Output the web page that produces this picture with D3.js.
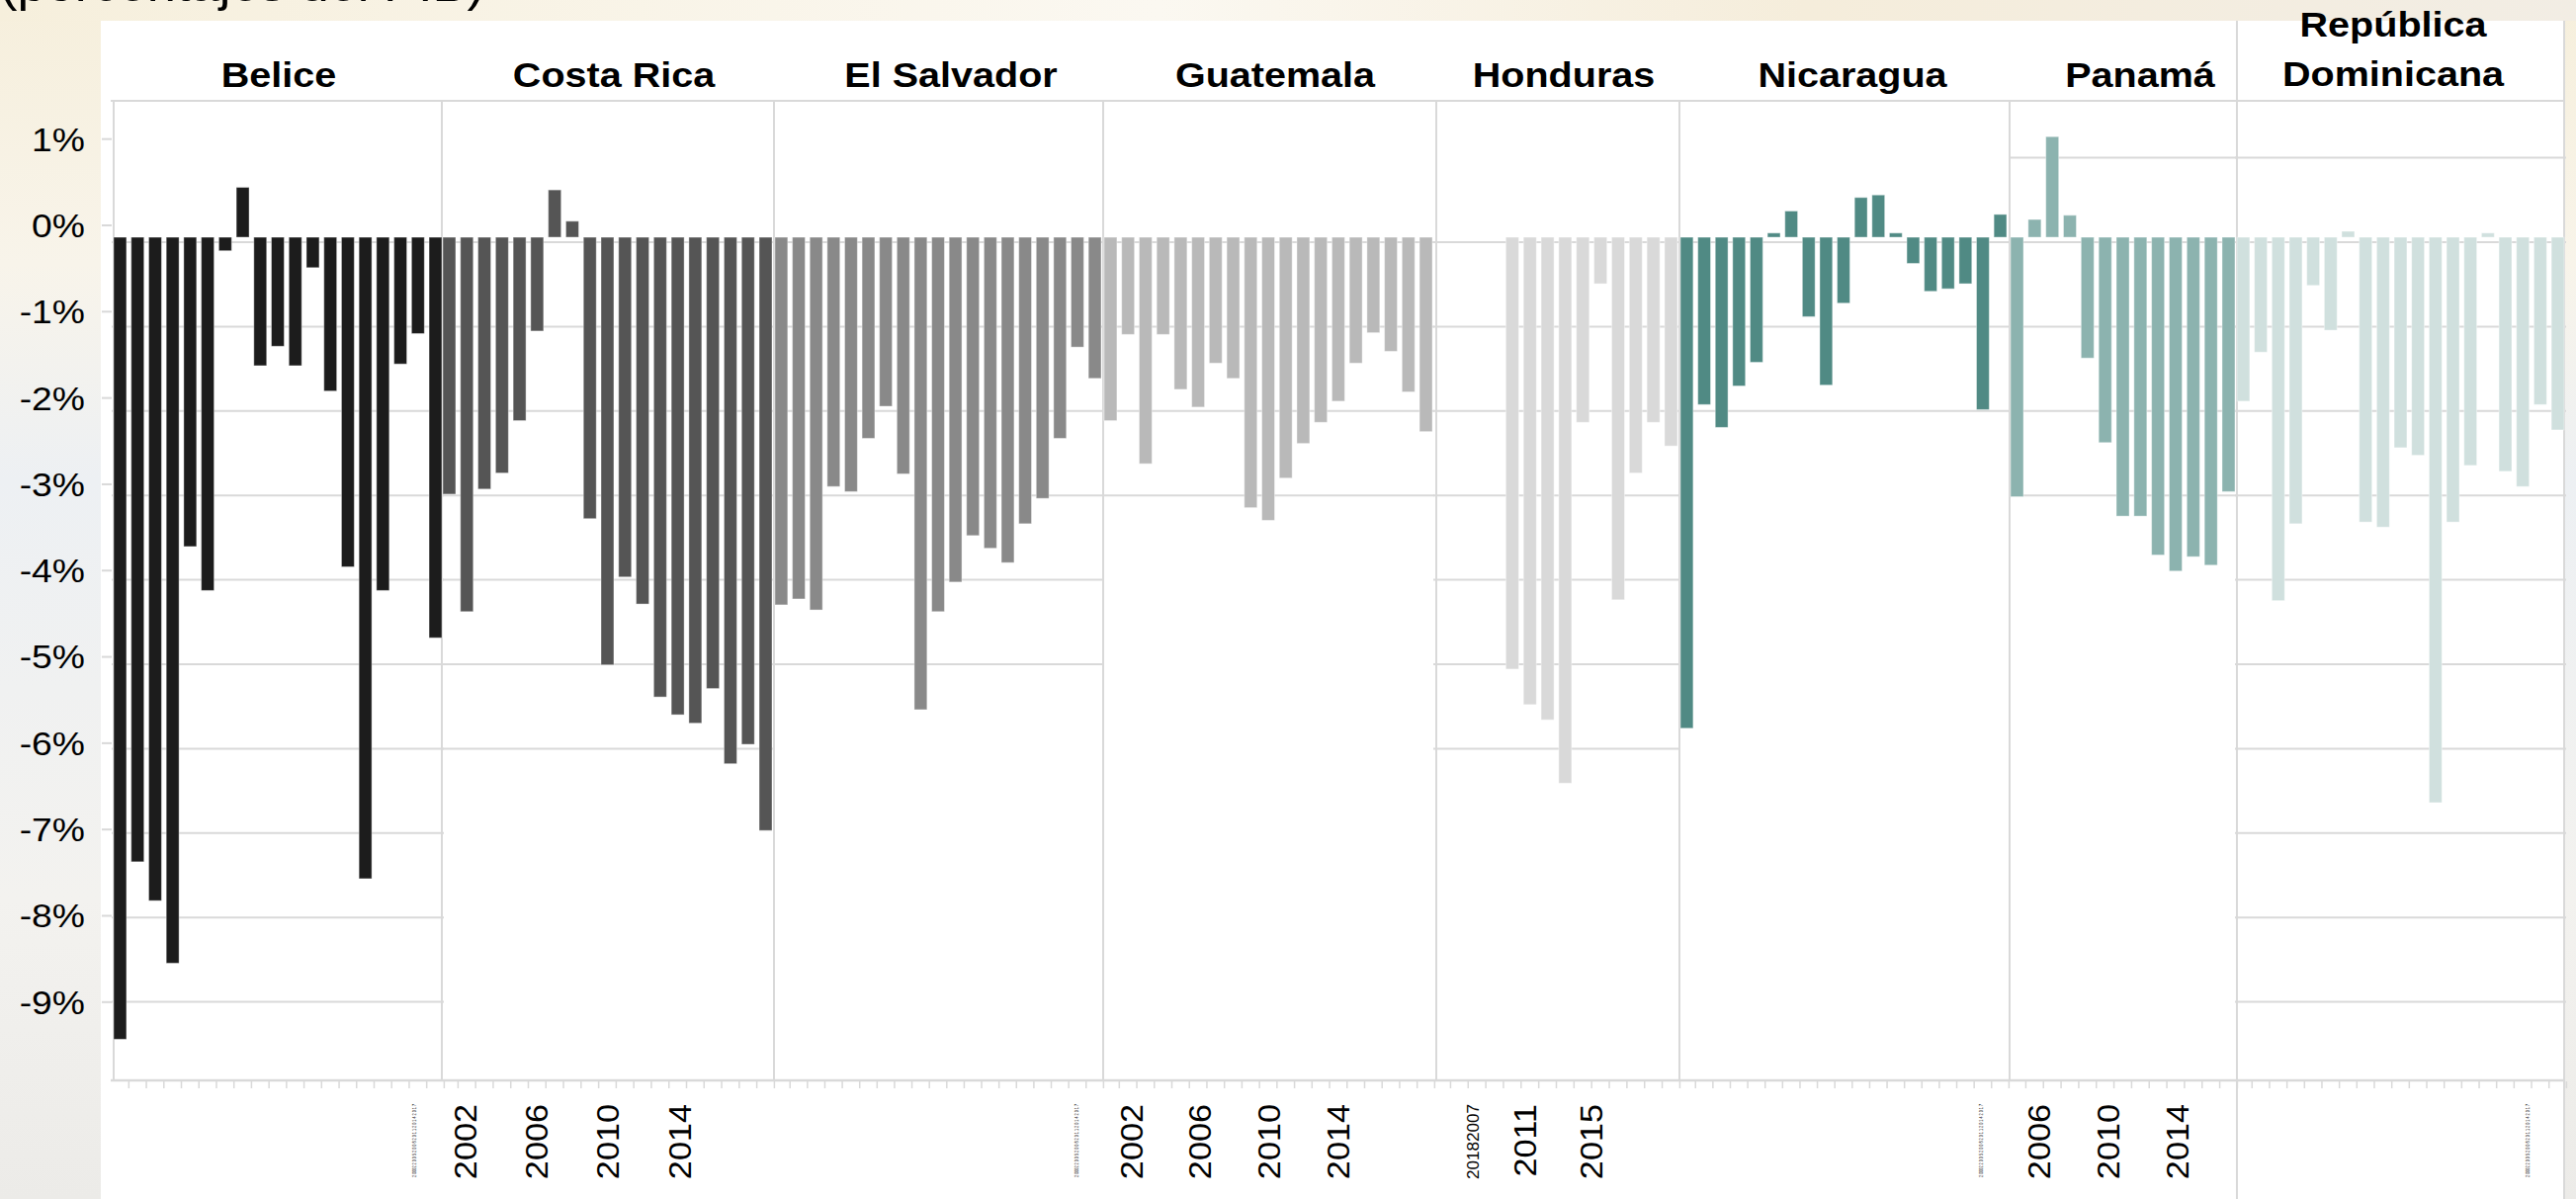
<!DOCTYPE html>
<html><head><meta charset="utf-8">
<script src="https://cdn.jsdelivr.net/npm/d3@7"></script>
<style>html,body{margin:0;padding:0;overflow:hidden;background:#fff}</style>
</head><body>
<svg id="chart" width="2606" height="1213"></svg>
<script>
// ---------- data ----------
const subtitle = "(porcentajes del PIB)";
const countries = ["Belice","Costa Rica","El Salvador","Guatemala","Honduras","Nicaragua","Panamá","República Dominicana"];
const years = [2000,2001,2002,2003,2004,2005,2006,2007,2008,2009,2010,2011,2012,2013,2014,2015,2016,2017,2018];
const yearsHonduras = [2005,2006,2007,2008,2009,2010,2011,2012,2013,2014,2015,2016,2017,2018];
const yearsPanama = [2006,2007,2008,2009,2010,2011,2012,2013,2014,2015,2016,2017,2018];

const belice = [-9.49,-7.39,-7.85,-8.59,-3.66,-4.18,-0.16,0.59,-1.52,-1.29,-1.52,-0.36,-1.82,-3.90,-7.59,-4.18,-1.50,-1.14,-4.74];
const costaRica = [-3.04,-4.43,-2.98,-2.79,-2.17,-1.11,0.56,0.19,-3.33,-5.06,-4.02,-4.34,-5.44,-5.65,-5.75,-5.34,-6.23,-6.00,-7.02];
const elSalvador = [-4.35,-4.28,-4.41,-2.95,-3.01,-2.38,-2.00,-2.80,-5.59,-4.43,-4.08,-3.53,-3.68,-3.85,-3.39,-3.09,-2.38,-1.30,-1.67];
const guatemala = [-2.17,-1.15,-2.68,-1.15,-1.80,-2.01,-1.49,-1.67,-3.20,-3.35,-2.85,-2.44,-2.19,-1.94,-1.49,-1.13,-1.35,-1.83,-2.30];
const honduras = [null,null,null,null,-5.11,-5.53,-5.71,-6.46,-2.19,-0.55,-4.29,-2.79,-2.19,-2.47];
const nicaragua = [-5.81,-1.98,-2.25,-1.76,-1.48,0.05,0.31,-0.94,-1.75,-0.78,0.47,0.50,0.05,-0.31,-0.64,-0.61,-0.55,-2.04,0.27];
const panama = [-3.07,0.21,1.19,0.26,-1.43,-2.43,-3.30,-3.30,-3.76,-3.95,-3.78,-3.88,-3.01];
const repDominicana = [-1.94,-1.36,-4.30,-3.39,-0.57,-1.10,0.07,-3.37,-3.43,-2.49,-2.58,-6.69,-3.37,-2.70,0.05,-2.77,-2.95,-1.98,-2.28];

const yTickValues = [1,0,-1,-2,-3,-4,-5,-6,-7,-8,-9];
const yTickLabels = ["1%","0%","-1%","-2%","-3%","-4%","-5%","-6%","-7%","-8%","-9%"];
const xLabelYears = [2002,2006,2010,2014];
const xLabelYearsHonduras = [2011,2015];
const xLabelHondurasSmall = "20182007";
const xLabelTiny = "2 0002 2 0 0 5 2 0 0 8 2 0 1 1 2 0 1 4 2 0 1 7";

// ---------- layout ----------
const svg = d3.select("#chart");
const FONT = "'Liberation Sans', Arial, sans-serif";
const SX = 1.13; // horizontal stretch of original picture

// background
const defs = svg.append("defs");
const bg = defs.append("linearGradient").attr("id","bg").attr("x1",0).attr("y1",0).attr("x2",0).attr("y2",1);
bg.append("stop").attr("offset","0%").attr("stop-color","#f6efdc");
bg.append("stop").attr("offset","22%").attr("stop-color","#f8f4ea");
bg.append("stop").attr("offset","40%").attr("stop-color","#edf0f3");
bg.append("stop").attr("offset","75%").attr("stop-color","#f3f2ef");
bg.append("stop").attr("offset","100%").attr("stop-color","#ecebe8");
svg.append("rect").attr("width",2606).attr("height",1213).attr("fill","url(#bg)");
const bgTop = defs.append("linearGradient").attr("id","bgTop").attr("x1",0).attr("y1",0).attr("x2",1).attr("y2",0);
bgTop.append("stop").attr("offset","0%").attr("stop-color","#f6efdc");
bgTop.append("stop").attr("offset","45%").attr("stop-color","#fbf8f1");
bgTop.append("stop").attr("offset","70%").attr("stop-color","#f5eddb");
bgTop.append("stop").attr("offset","100%").attr("stop-color","#f2ede4");
svg.append("rect").attr("width",2606).attr("height",21).attr("fill","url(#bgTop)");
svg.append("rect").attr("x",102).attr("y",21).attr("width",2493).attr("height",1192).attr("fill","#fff");

// subtitle, mostly cut off by the top edge (only descenders show)
svg.append("text").attr("transform",`translate(0,1) scale(1.05,1)`)
  .attr("font-family",FONT).attr("font-size",50).attr("fill","#000").text(subtitle);

const panels = [
  {name:"Belice", years:years, values:belice, color:"#1c1c1c", x0:115, x1:447, tx:282, grid:[0,-9]},
  {name:"Costa Rica", years:years, values:costaRica, color:"#555555", x0:448, x1:781, tx:621, grid:[0,-6]},
  {name:"El Salvador", years:years, values:elSalvador, color:"#898989", x0:784, x1:1114, tx:962, grid:[0,-5]},
  {name:"Guatemala", years:years, values:guatemala, color:"#b9b9b9", x0:1117, x1:1449, tx:1290, grid:[0,-3]},
  {name:"Honduras", years:yearsHonduras, values:honduras, color:"#d9d9d9", x0:1452, x1:1697, tx:1582, grid:[0,-6]},
  {name:"Nicaragua", years:years, values:nicaragua, color:"#508a84", x0:1700, x1:2030, tx:1874, grid:[0,-2]},
  {name:"Panamá", years:yearsPanama, values:panama, color:"#8cb3af", x0:2034, x1:2261, tx:2165, grid:[1,-3]},
  {name:"República Dominicana", years:years, values:repDominicana, color:"#d0e0de", x0:2263, x1:2594, tx:2421, grid:[1,-9]}
];

const yBar = d3.scaleLinear().domain([-10, 0]).range([1095, 240]);
const yGrid = d3.scaleLinear().domain([-10, 0]).range([1099, 245]);
const yAxisScale = d3.scaleLinear().domain([1, -9]).range([140.2, 1013.3]);

const gridColor = "#d9d9d9";

// panel gridlines
panels.forEach(p => {
  const lines = d3.range(p.grid[0], p.grid[1]-0.5, -1);
  svg.append("g").selectAll("line").data(lines).join("line")
    .attr("x1", p.x0-2).attr("x2", p.x1+2)
    .attr("y1", d => yGrid(d)).attr("y2", d => yGrid(d))
    .attr("stroke", gridColor).attr("stroke-width", 2);
});

// frame: top border, separators, bottom axis
svg.append("line").attr("x1",112).attr("x2",2595).attr("y1",102).attr("y2",102).attr("stroke",gridColor).attr("stroke-width",2);
const seps = [115,447,783,1116,1453,1699,2033];
svg.append("g").selectAll("line").data(seps).join("line")
  .attr("x1",d=>d).attr("x2",d=>d).attr("y1",102).attr("y2",1093)
  .attr("stroke",gridColor).attr("stroke-width",2);
svg.append("line").attr("x1",2263).attr("x2",2263).attr("y1",21).attr("y2",1213).attr("stroke",gridColor).attr("stroke-width",2);
svg.append("line").attr("x1",2594).attr("x2",2594).attr("y1",21).attr("y2",1213).attr("stroke",gridColor).attr("stroke-width",2);
svg.append("line").attr("x1",112).attr("x2",2595).attr("y1",1093).attr("y2",1093).attr("stroke",gridColor).attr("stroke-width",2.5);

// bars
panels.forEach(p => {
  const x = d3.scaleBand().domain(p.years).range([p.x0, p.x1]).paddingInner(0.27).paddingOuter(0);
  const data = p.years.map((yr,i)=>({yr, v:p.values[i]})).filter(d=>d.v!==null);
  svg.append("g").selectAll("rect").data(data).join("rect")
    .attr("x", d => x(d.yr)).attr("width", x.bandwidth())
    .attr("y", d => yBar(Math.max(0,d.v)))
    .attr("height", d => Math.abs(yBar(d.v)-yBar(0)))
    .attr("fill", p.color).attr("stroke","rgba(255,255,255,0.4)").attr("stroke-width",1);
  // bottom ticks
  const step = x.step();
  const ticks = p.years.map(yr => x(yr) + x.bandwidth() + (step - x.bandwidth())/2);
  svg.append("g").selectAll("line").data(ticks).join("line")
    .attr("x1",d=>d).attr("x2",d=>d).attr("y1",1094).attr("y2",1101)
    .attr("stroke",gridColor).attr("stroke-width",1.5);
});

// y axis
const yAxis = d3.axisLeft(yAxisScale).tickValues(yTickValues).tickFormat((d,i)=>yTickLabels[i]).tickSize(10).tickPadding(0);
const ya = svg.append("g").attr("transform","translate(113,0)").call(yAxis);
ya.select(".domain").remove();
ya.selectAll(".tick line").attr("stroke",gridColor).attr("stroke-width",2);
ya.selectAll(".tick text").remove();
ya.selectAll(".tick").append("text")
  .attr("transform", `translate(-27,0) scale(${SX},1)`)
  .attr("text-anchor","end").attr("dy","0.36em")
  .attr("font-family",FONT).attr("font-size",33).attr("fill","#000")
  .text((d,i)=>yTickLabels[i]);

// headers
panels.forEach(p => {
  const lines = p.name === "República Dominicana" ? ["República","Dominicana"] : [p.name];
  lines.forEach((t,i) => {
    const yy = lines.length===2 ? (i===0 ? 37 : 87) : 88;
    svg.append("text").attr("transform",`translate(${p.tx},${yy}) scale(${SX},1)`)
      .attr("text-anchor","middle").attr("font-family",FONT).attr("font-weight","bold")
      .attr("font-size",35).attr("fill","#000").text(t);
  });
});

// x labels (rotated)
const labelGroups = [
  {tiny:419, scale:d3.scaleLinear().domain([2002,2014]).range([470,687]), years:xLabelYears},
  {tiny:1089, scale:d3.scaleLinear().domain([2002,2014]).range([1144,1353]), years:xLabelYears},
  {tiny:2004, scale:d3.scaleLinear().domain([2006,2014]).range([2062,2202]), years:xLabelYears.slice(1)},
  {tiny:2557, scale:null, years:[]}
];
const LABTOP = 1117;
function rotText(x, txt, size, sx, len) {
  const t = svg.append("text").attr("transform",`translate(${x},${LABTOP}) rotate(-90) scale(${sx},1)`)
    .attr("text-anchor","end").attr("dy","0.36em")
    .attr("font-family",FONT).attr("font-size",size).attr("fill","#000").text(txt);
  if (len) t.attr("textLength",len).attr("lengthAdjust","spacingAndGlyphs");
}
labelGroups.forEach(g => {
  rotText(g.tiny, xLabelTiny, 6, 1.0, 74);
  g.years.forEach(yr => rotText(g.scale(yr), String(yr), 32, 1.07));
});
const hondScale = d3.scaleLinear().domain([2011,2015]).range([1542,1609]);
xLabelYearsHonduras.forEach(yr => rotText(hondScale(yr), String(yr), 32, 1.07));
rotText(1490, xLabelHondurasSmall, 16, 1.07);
</script>
</body></html>
